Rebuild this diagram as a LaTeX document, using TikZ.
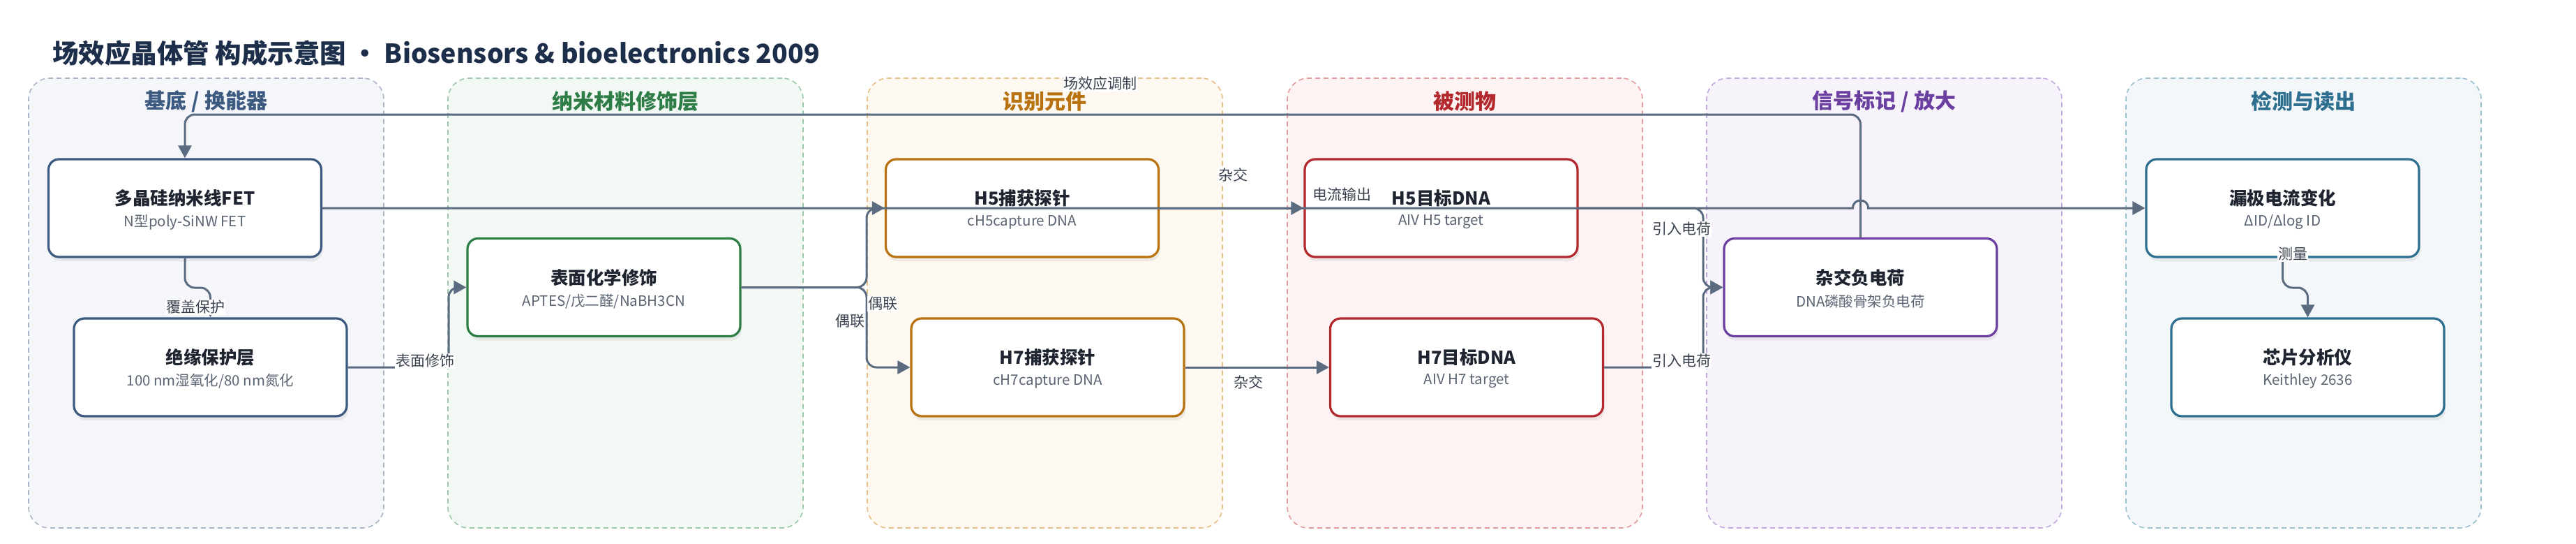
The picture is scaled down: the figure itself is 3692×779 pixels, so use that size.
\documentclass[tikz,border=0pt]{standalone}
\usepackage{fontspec}
\setmainfont{Noto Sans CJK SC}
\usetikzlibrary{arrows.meta,shadows}

\definecolor{conncol}{HTML}{5B6B80}
\definecolor{titlec}{HTML}{1C2E4A}
\definecolor{subc}{HTML}{5B6473}
\definecolor{labc}{HTML}{3A4250}
\definecolor{boxt}{HTML}{1E2530}
\definecolor{c1}{HTML}{3D5A80}\definecolor{f1}{HTML}{F5F6FA}\definecolor{b1}{HTML}{A9B5C8}
\definecolor{c2}{HTML}{2E7D46}\definecolor{f2}{HTML}{F2F8F4}\definecolor{b2}{HTML}{9CC8A9}
\definecolor{c3}{HTML}{B8720F}\definecolor{f3}{HTML}{FDF8F0}\definecolor{b3}{HTML}{E5BF87}
\definecolor{c4}{HTML}{B3282D}\definecolor{f4}{HTML}{FDF3F2}\definecolor{b4}{HTML}{E39C9C}
\definecolor{c5}{HTML}{6B3FA0}\definecolor{f5}{HTML}{F6F3FA}\definecolor{b5}{HTML}{C3A8DD}
\definecolor{c6}{HTML}{2E6E8E}\definecolor{f6}{HTML}{F3F7F9}\definecolor{b6}{HTML}{9BBFCE}

\tikzset{
 grp/.style={draw, dash pattern=on 7pt off 5pt, line width=1.6pt, rounded corners=30pt,
   minimum width=509pt, minimum height=644pt, inner sep=0pt},
 card/.style={draw, fill=white, line width=3.2pt, rounded corners=15pt,
   minimum width=391pt, minimum height=140pt, inner sep=0pt,
   drop shadow={shadow xshift=2pt, shadow yshift=-6pt, opacity=0.12}},
 ctitle/.style={font=\bfseries\fontsize{25.5}{30}\selectfont, text=boxt, inner sep=0pt},
 csub/.style={font=\fontsize{20.5}{24}\selectfont, text=subc, inner sep=0pt},
 gtitle/.style={font=\bfseries\fontsize{30}{36}\selectfont, inner sep=0pt},
 lab/.style={font=\fontsize{21}{25}\selectfont, text=labc, fill=white, inner sep=1pt},
 arr/.style={draw=conncol, line width=3pt, rounded corners=14pt,
   -{Triangle[length=18pt,width=19pt]}},
}

\newcommand\mycard[6]{%
  \node[card, draw=#4] (#1) at (#2,#3) {};
  \node[ctitle] (#1-t) at (#2,#3-14) {#5};
  \node[csub] (#1-s) at (#2,#3+20) {#6};
}
\newcommand\mygroup[6]{%
  \node[grp, draw=#5, fill=#6] (#1) at (#2,434) {};
  \node[gtitle, text=#4] (#1-t) at (#2,145) {#3};
}

\begin{document}
\begin{tikzpicture}[x=1pt,y=-1pt]
\fill[white] (0,0) rectangle (3692,779);
\useasboundingbox (0,0) rectangle (3692,779);

\node[anchor=west, font=\bfseries\fontsize{37.5}{44}\selectfont, text=titlec, inner sep=0pt] (title) at (75,76)
  {场效应晶体管 构成示意图 • Biosensors \& bioelectronics 2009};

\mygroup{g1}{295.5}{基底 / 换能器}{c1}{b1}{f1}
\mygroup{g2}{896.5}{纳米材料修饰层}{c2}{b2}{f2}
\mygroup{g3}{1497.5}{识别元件}{c3}{b3}{f3}
\mygroup{g4}{2099.5}{被测物}{c4}{b4}{f4}
\mygroup{g5}{2700.5}{信号标记 / 放大}{c5}{b5}{f5}
\mygroup{g6}{3301.5}{检测与读出}{c6}{b6}{f6}

\mycard{fet}{265}{298}{c1}{多晶硅纳米线FET}{N型poly-SiNW FET}
\mycard{ins}{301.5}{526}{c1}{绝缘保护层}{100 nm湿氧化/80 nm氮化}
\mycard{surf}{865.5}{411.5}{c2}{表面化学修饰}{APTES/戊二醛/NaBH3CN}
\mycard{h5p}{1465}{298}{c3}{H5捕获探针}{cH5capture DNA}
\mycard{h7p}{1501.5}{526}{c3}{H7捕获探针}{cH7capture DNA}
\mycard{h5t}{2065.5}{298}{c4}{H5目标DNA}{AIV H5 target}
\mycard{h7t}{2102}{526}{c4}{H7目标DNA}{AIV H7 target}
\mycard{chg}{2666.5}{411.5}{c5}{杂交负电荷}{DNA磷酸骨架负电荷}
\mycard{did}{3271.5}{298}{c6}{漏极电流变化}{ΔID/Δlog ID}
\mycard{chip}{3307.5}{526}{c6}{芯片分析仪}{Keithley 2636}

\coordinate (topy) at (0,164);

% feedback
\draw[arr] (chg.north) -- (chg.north |- topy) -- (fet.north |- topy) -- (fet.north);
% current output with hop
\draw[arr, rounded corners=0pt] (fet.east) -- (2655.5,298) .. controls (2655.5,283.3) and (2677.5,283.3) .. (2677.5,298) -- (did.west);
% cover
\draw[arr] (fet.south) -- (265,412) -- (301.5,412) -- (ins.north);
% surface modification
\draw[arr] (ins.east) -- (643,526) -- (643,411.5) -- (surf.west);
% coupling
\draw[arr] (surf.east) -- (1242,411.5) -- (1242,298) -- (h5p.west);
\draw[arr] (surf.east) -- (1242,411.5) -- (1242,526) -- (h7p.west);
% hybridization
\draw[arr] (h5p.east) -- (h5t.west);
\draw[arr] (h7p.east) -- (h7t.west);
% charge
\draw[arr] (h5t.east) -- (2441,298) -- (2441,411.5) -- (chg.west);
\draw[arr] (h7t.east) -- (2441,526) -- (2441,411.5) -- (chg.west);
% measure
\draw[arr] (did.south) -- (3271.5,412) -- (3307.5,412) -- (chip.north);

% labels
\node[lab] (l1) at (1577,120) {场效应调制};
\node[lab] (l2) at (1923,278) {电流输出};
\node[lab] (l3) at (280,440) {覆盖保护};
\node[lab] (l4) at (609,517) {表面修饰};
\node[lab] (l5) at (1265,435) {偶联};
\node[lab] (l6) at (1218,460) {偶联};
\node[lab] (l7) at (1767,250) {杂交};
\node[lab] (l8) at (1789,547) {杂交};
\node[lab] (l9) at (2410,328) {引入电荷};
\node[lab] (l10) at (2410,517) {引入电荷};
\node[lab] (l11) at (3286,364) {测量};
\end{tikzpicture}
\end{document}
